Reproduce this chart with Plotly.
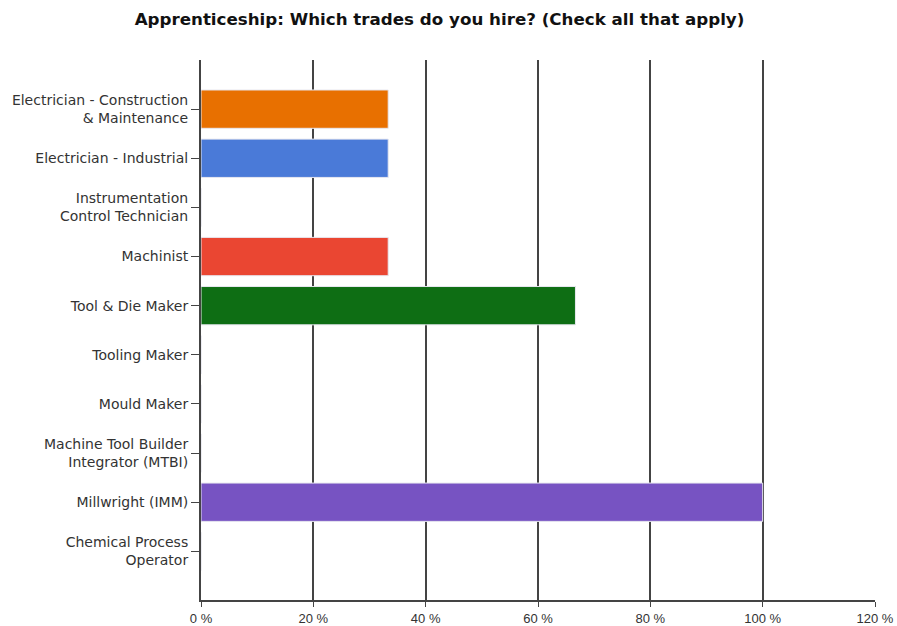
import plotly.graph_objects as go

trades = [
    "Electrician - Construction<br>& Maintenance",
    "Electrician - Industrial",
    "Instrumentation<br>Control Technician",
    "Machinist",
    "Tool & Die Maker",
    "Tooling Maker",
    "Mould Maker",
    "Machine Tool Builder<br>Integrator (MTBI)",
    "Millwright (IMM)",
    "Chemical Process<br>Operator",
]
share_pct = [33.33, 33.33, 0, 33.33, 66.67, 0, 0, 0, 100, 0]
bar_colors = [
    "#E87000", "#4A7AD8", "#999999", "#EA4632", "#0E6E14",
    "#999999", "#999999", "#999999", "#7753C2", "#999999",
]
x_ticks = [0, 20, 40, 60, 80, 100, 120]
x_tick_text = [f"{v} %" for v in x_ticks]

fig = go.Figure(
    go.Bar(
        x=share_pct,
        y=trades,
        orientation="h",
        width=0.78,
        marker=dict(color=bar_colors, line=dict(color="#E8E8F0", width=1)),
        hoverinfo="x+y",
    )
)

fig.update_layout(
    width=897,
    height=626,
    margin=dict(l=201, r=22, t=60, b=26),
    paper_bgcolor="white",
    plot_bgcolor="white",
    showlegend=False,
    font=dict(family="DejaVu Sans, Liberation Sans, sans-serif", size=14, color="#333333"),
    title=dict(
        text="<b>Apprenticeship: Which trades do you hire? (Check all that apply)</b>",
        x=0.49,
        xanchor="center",
        y=0.97,
        yanchor="middle",
        font=dict(size=16.7, color="#111111", family="DejaVu Sans, sans-serif"),
    ),
)

fig.update_xaxes(
    range=[0, 120],
    tickvals=x_ticks,
    ticktext=x_tick_text,
    automargin=False,
    showgrid=True,
    gridcolor="#444444",
    gridwidth=1.5,
    zeroline=False,
    showline=True,
    linecolor="#444444",
    linewidth=2,
    ticks="outside",
    ticklen=5,
    tickcolor="#444444",
    tickfont=dict(size=13, color="#333333", family="Liberation Sans, Arial, sans-serif"),
)

fig.update_yaxes(
    categoryorder="array",
    categoryarray=trades,
    range=[9.99, -1.0],
    automargin=False,
    showgrid=False,
    zeroline=False,
    showline=True,
    linecolor="#444444",
    linewidth=2,
    ticks="outside",
    ticklen=8,
    tickcolor="#444444",
    tickfont=dict(size=14, color="#333333"),
)

fig.write_html("out.html")
